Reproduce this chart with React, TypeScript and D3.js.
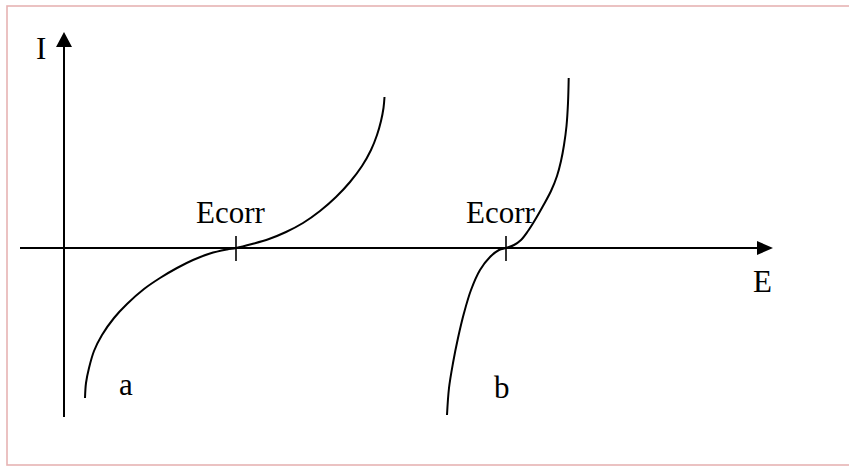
import React from "react";
import * as d3 from "d3";

// Polarization curves: current I against potential E, in plot units
// (origin at the axes' crossing point).
const curveA: [number, number][] = [
  [21, -150], [22, -135], [25, -120], [30, -103], [38, -87], [50, -70],
  [63, -56], [80, -41], [96, -30], [113, -20], [129, -12], [146, -5.5],
  [163, -1.5], [172, 0], [188, 4], [205, 9], [222, 16], [239, 25],
  [256, 37], [272, 51], [286, 66], [298, 82], [307, 98], [313, 113],
  [317, 127], [319.5, 140], [320.5, 151],
];
const curveB: [number, number][] = [
  [383, -167], [385, -140], [389, -115], [394, -90], [400, -65], [407, -42],
  [416, -22], [426, -9], [435, -2], [442, 0], [450, 3], [457, 8],
  [464, 17], [471, 28], [479, 42], [487, 57], [493, 72], [497, 87],
  [500, 103], [502.5, 122], [504, 145], [504.7, 170],
];
const ecorrValues = [172, 442];
const ecorrLabels = ["Ecorr", "Ecorr"];
const curveNames = ["a", "b"];
const curveNamePos: [number, number][] = [[55, -147], [430, -150]];

const W = 849;
const H = 466;
const FONT = "'Liberation Serif', 'Times New Roman', serif";
const FS = 31;

export default function App() {
  const x = d3.scaleLinear().domain([0, 709]).range([64, 773]);
  const y = d3.scaleLinear().domain([0, 216]).range([248, 32]);

  const line = d3
    .line<[number, number]>()
    .x((d) => x(d[0]))
    .y((d) => y(d[1]))
    .curve(d3.curveCatmullRom.alpha(0.5));

  const x0 = x(0);
  const y0 = y(0);

  return (
    <svg
      width={W}
      height={H}
      style={{ position: "absolute", left: 0, top: 0, background: "#fff" }}
    >
      <rect x={7} y={6} width={860} height={459} fill="none" stroke="#e6b3b3" strokeWidth={1.6} />

      {/* axes */}
      <line x1={x(-44)} y1={y0} x2={x(694)} y2={y0} stroke="#000" strokeWidth={2} />
      <path
        d={`M${x(709)},${y0} L${x(693)},${y0 - 7} L${x(693)},${y0 + 7} Z`}
        fill="#000"
      />
      <line x1={x0} y1={y(-169)} x2={x0} y2={y(202)} stroke="#000" strokeWidth={2} />
      <path
        d={`M${x0},${y(216)} L${x0 - 8},${y(201)} L${x0 + 8},${y(201)} Z`}
        fill="#000"
      />
      <text x={36} y={59} fontFamily={FONT} fontSize={FS}>I</text>
      <text x={753} y={292} fontFamily={FONT} fontSize={FS}>E</text>

      {/* corrosion potential ticks */}
      {ecorrValues.map((v, i) => (
        <g key={i}>
          <line x1={x(v)} y1={y(12)} x2={x(v)} y2={y(-13)} stroke="#000" strokeWidth={1.6} />
          <text x={x(v) - 40} y={223} fontFamily={FONT} fontSize={FS}>
            {ecorrLabels[i]}
          </text>
        </g>
      ))}

      {/* curves */}
      {[curveA, curveB].map((c, i) => (
        <path key={i} d={line(c) || ""} fill="none" stroke="#000" strokeWidth={2} />
      ))}
      {curveNames.map((n, i) => (
        <text
          key={n}
          x={x(curveNamePos[i][0])}
          y={y(curveNamePos[i][1])}
          fontFamily={FONT}
          fontSize={FS}
        >
          {n}
        </text>
      ))}
    </svg>
  );
}
